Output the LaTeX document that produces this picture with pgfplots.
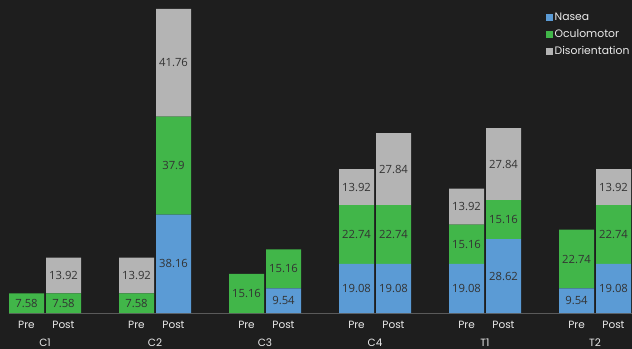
\documentclass[border=0pt]{standalone}
\usepackage{pgfplots}
\pgfplotsset{compat=1.18}
\usepackage{fontspec}
\setmainfont{Poppins}
\newfontfamily\numfont{Open Sans}
\definecolor{bg}{HTML}{1E1E1E}
\definecolor{cn}{HTML}{5B9BD5}
\definecolor{co}{HTML}{41B649}
\definecolor{cd}{HTML}{B4B4B4}
\definecolor{txt}{HTML}{EAEAEA}
\definecolor{lab}{HTML}{333333}
\definecolor{base}{HTML}{5A5A5A}
\pgfplotsset{
  common/.style={
    at={(8.5bp,36bp)}, anchor=south west,
    scale only axis, width=623.5bp, height=313bp,
    xmin=8.5, xmax=632, ymin=0, ymax=121.3,
    axis y line=none,
    clip=false,
  }
}
\begin{document}
\begin{tikzpicture}
\fill[bg] (0,0) rectangle (632bp,349bp);
\begin{axis}[common,
  ybar stacked, bar width=35,
  axis x line*=bottom,
  x axis line style={base, line width=0.8bp, -},
  xtick={26.5,63.5,136.5,173.5,246.5,283.5,356.5,393.5,466.5,503.5,576.5,613.5},
  xticklabels={Pre,Post,Pre,Post,Pre,Post,Pre,Post,Pre,Post,Pre,Post},
  major tick length=0pt,
  xticklabel style={font=\fontsize{10.5bp}{12bp}\selectfont, text=txt, yshift=-5bp},
  extra x ticks={45,155,265,375,485,595},
  extra x tick labels={C1,C2,C3,C4,T1,T2},
  extra x tick style={major tick length=0pt, tick label style={yshift=-17.3bp}},
  legend style={at={(axis cs:545.5,117)}, anchor=north west, draw=none, fill=none,
     font=\fontsize{10.8bp}{12bp}\selectfont, text=txt, row sep=3.5bp,
     cells={anchor=west}, inner sep=0pt},
  legend image code/.code={\fill[#1] (0bp,-3.5bp) rectangle (7bp,3.5bp);},
]
\addplot[fill=cn, draw=none] coordinates {
 (26.5,0) (63.5,0) (136.5,0) (173.5,38.16) (246.5,0) (283.5,9.54)
 (356.5,19.08) (393.5,19.08) (466.5,19.08) (503.5,28.62) (576.5,9.54) (613.5,19.08)};
\addplot[fill=co, draw=none] coordinates {
 (26.5,7.58) (63.5,7.58) (136.5,7.58) (173.5,37.9) (246.5,15.16) (283.5,15.16)
 (356.5,22.74) (393.5,22.74) (466.5,15.16) (503.5,15.16) (576.5,22.74) (613.5,22.74)};
\addplot[fill=cd, draw=none] coordinates {
 (26.5,0) (63.5,13.92) (136.5,13.92) (173.5,41.76) (246.5,0) (283.5,0)
 (356.5,13.92) (393.5,27.84) (466.5,13.92) (503.5,27.84) (576.5,0) (613.5,13.92)};
\legend{Nasea,Oculomotor,Disorientation}
\end{axis}
\begin{axis}[common, hide axis]
\addplot[only marks, mark=none, point meta=explicit symbolic,
  nodes near coords, nodes near coords align={center},
  every node near coord/.append style={anchor=center, text=lab, font=\numfont\fontsize{11.3bp}{13bp}\selectfont}]
 table[meta=label] {
x y label
26.5 3.79 7.58
63.5 3.79 7.58
63.5 14.54 13.92
136.5 3.79 7.58
136.5 14.54 13.92
173.5 19.08 38.16
173.5 57.11 37.9
173.5 96.94 41.76
246.5 7.58 15.16
283.5 4.77 9.54
283.5 17.12 15.16
356.5 9.54 19.08
356.5 30.45 22.74
356.5 48.78 13.92
393.5 9.54 19.08
393.5 30.45 22.74
393.5 55.74 27.84
466.5 9.54 19.08
466.5 26.66 15.16
466.5 41.20 13.92
503.5 14.31 28.62
503.5 36.20 15.16
503.5 57.70 27.84
576.5 4.77 9.54
576.5 20.91 22.74
613.5 9.54 19.08
613.5 30.45 22.74
613.5 48.78 13.92
};
\end{axis}
\pgfresetboundingbox
\useasboundingbox (0,0) rectangle (632bp,349bp);
\end{tikzpicture}
\end{document}
